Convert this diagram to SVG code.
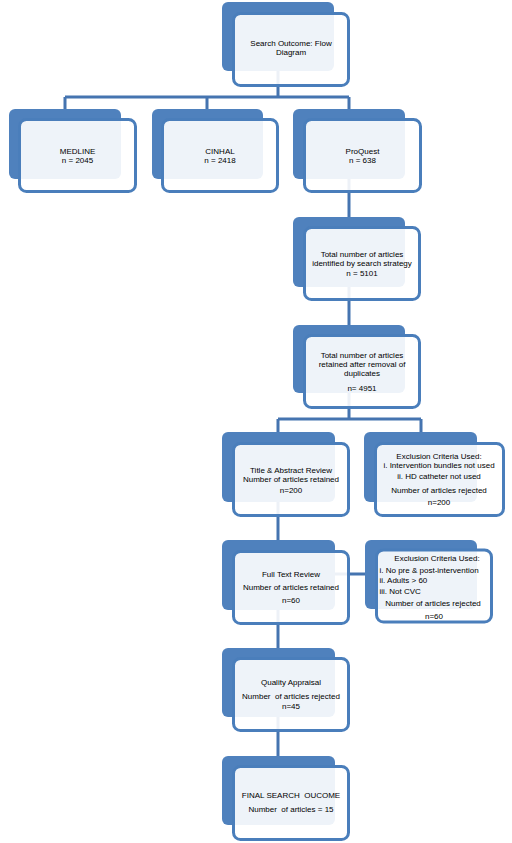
<svg xmlns="http://www.w3.org/2000/svg" width="512" height="843" viewBox="0 0 512 843">
<style>
.bk{fill:#4f81bd;}
.fr{fill:#ffffff;fill-opacity:0.9;stroke:#4a7ebb;stroke-width:3;}
.cn{fill:none;stroke:#4574b0;stroke-width:3;}
text{font-family:"Liberation Sans",Arial,sans-serif;font-size:8px;fill:#000000;}
.c{text-anchor:middle;}
</style>
<rect width="512" height="843" fill="#ffffff"/>
<g id="connectors">
<path class="cn" d="M278,36 V97 M65,97 H349 M65,97 V130 M207,97 V130 M349,97 V130"/>
<path class="cn" d="M349,150 V240"/>
<path class="cn" d="M349,260 V340"/>
<path class="cn" d="M349,360 V419 M278,419 H421 M278,419 V450 M421,419 V450"/>
<path class="cn" d="M278,470 V560"/>
<path class="cn" d="M335,574 H372"/>
<path class="cn" d="M278,580 V665"/>
<path class="cn" d="M278,690 V775"/>
</g>
<g id="n-top">
<rect class="bk" x="222" y="2" width="112" height="69" rx="6"/>
<rect class="fr" x="233.5" y="13.5" width="115" height="72" rx="7"/>
<text class="c" x="291" y="46">Search Outcome: Flow</text>
<text class="c" x="291" y="55">Diagram</text>
</g>
<g id="n-medline">
<rect class="bk" x="9" y="109" width="112" height="70" rx="6"/>
<rect class="fr" x="19.5" y="119.5" width="116" height="72" rx="7"/>
<text class="c" x="77.5" y="154">MEDLINE</text>
<text class="c" x="77.5" y="163">n = 2045</text>
</g>
<g id="n-cinhal">
<rect class="bk" x="152" y="109" width="111" height="70" rx="6"/>
<rect class="fr" x="162.5" y="119.5" width="115" height="72" rx="7"/>
<text class="c" x="220" y="154">CINHAL</text>
<text class="c" x="220" y="163">n = 2418</text>
</g>
<g id="n-proquest">
<rect class="bk" x="293" y="109" width="112" height="70" rx="6"/>
<rect class="fr" x="304.5" y="119.5" width="116" height="72" rx="7"/>
<text class="c" x="362.5" y="154">ProQuest</text>
<text class="c" x="362.5" y="163">n = 638</text>
</g>
<g id="n-total">
<rect class="bk" x="293" y="217" width="112" height="70" rx="6"/>
<rect class="fr" x="304.5" y="227.5" width="115" height="72" rx="7"/>
<text class="c" x="362" y="257">Total number of articles</text>
<text class="c" x="362" y="265.5">identified by search strategy</text>
<text class="c" x="362" y="276">n = 5101</text>
</g>
<g id="n-dedup">
<rect class="bk" x="293" y="325" width="112" height="68" rx="6"/>
<rect class="fr" x="304.5" y="335.5" width="115" height="72" rx="7"/>
<text class="c" x="362" y="358">Total number of articles</text>
<text class="c" x="362" y="367">retained after removal of</text>
<text class="c" x="362" y="375.5">duplicates</text>
<text class="c" x="362" y="391">n= 4951</text>
</g>
<g id="n-title">
<rect class="bk" x="222" y="432" width="113" height="70" rx="6"/>
<rect class="fr" x="233.5" y="443.5" width="115" height="72" rx="7"/>
<text class="c" x="291" y="473">Title &amp; Abstract Review</text>
<text class="c" x="291" y="482">Number of articles retained</text>
<text class="c" x="291" y="492.5">n=200</text>
</g>
<g id="n-excl1">
<rect class="bk" x="364" y="432" width="113" height="70" rx="6"/>
<rect class="fr" x="375.5" y="443.5" width="128" height="72" rx="7"/>
<text class="c" x="439" y="459">Exclusion Criteria Used:</text>
<text class="c" x="439" y="468">i. Intervention bundles not used</text>
<text class="c" x="439" y="479">ii. HD catheter not used</text>
<text class="c" x="439" y="492.5">Number of articles rejected</text>
<text class="c" x="439" y="505">n=200</text>
</g>
<g id="n-fulltext">
<rect class="bk" x="222" y="540" width="113" height="70" rx="6"/>
<rect class="fr" x="233.5" y="551.5" width="115" height="72" rx="7"/>
<text class="c" x="291" y="576.5">Full Text Review</text>
<text class="c" x="291" y="590">Number of articles retained</text>
<text class="c" x="291" y="603">n=60</text>
</g>
<g id="n-excl2">
<rect class="bk" x="365" y="540" width="112" height="69" rx="6"/>
<rect class="fr" x="376.5" y="550" width="115" height="72" rx="7"/>
<text class="c" x="437" y="560.5">Exclusion Criteria Used:</text>
<text x="379.5" y="572.5">i. No pre &amp; post-intervention</text>
<text x="379.5" y="583">ii. Adults &gt; 60</text>
<text x="379.5" y="594">iii. Not CVC</text>
<text class="c" x="433" y="606">Number of articles rejected</text>
<text class="c" x="434" y="619">n=60</text>
</g>
<g id="n-quality">
<rect class="bk" x="222" y="648" width="113" height="69" rx="6"/>
<rect class="fr" x="233.5" y="658.5" width="115" height="72" rx="7"/>
<text class="c" x="291" y="685">Quality Appraisal</text>
<text class="c" x="291" y="699" xml:space="preserve">Number  of articles rejected</text>
<text class="c" x="291" y="709">n=45</text>
</g>
<g id="n-final">
<rect class="bk" x="222" y="756" width="113" height="69" rx="6"/>
<rect class="fr" x="233.5" y="766.5" width="115" height="73" rx="7"/>
<text class="c" x="291" y="798" xml:space="preserve">FINAL SEARCH  OUCOME</text>
<text class="c" x="291" y="812" xml:space="preserve">Number  of articles = 15</text>
</g>
</svg>
